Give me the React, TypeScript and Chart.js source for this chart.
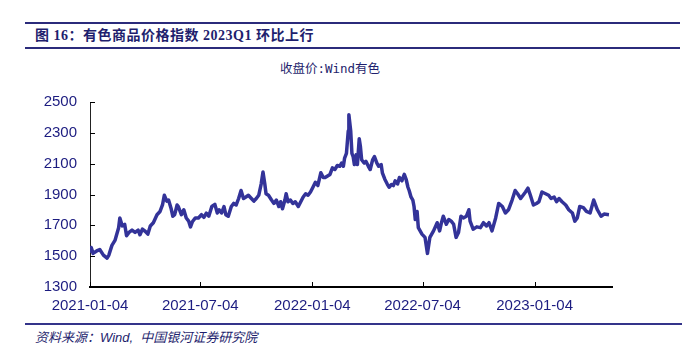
import React, { useEffect, useRef } from 'react';
import { Chart, registerables } from 'chart.js';

Chart.register(...registerables);

// ---------------- text ----------------
const TITLE = '图 16：有色商品价格指数 2023Q1 环比上行';
const SERIES_NAME = '收盘价:Wind有色';
const SOURCE = '资料来源：Wind,  中国银河证券研究院';

// ---------------- axes ----------------
const START_DATE = '2021-01-04';
const END_DATE = '2023-05-11';
const xTickDates = ['2021-01-04', '2021-07-04', '2022-01-04', '2022-07-04', '2023-01-04'];
const yMin = 1300;
const yMax = 2500;
const yStep = 200;

// ---------------- data (days since START_DATE, index close) ----------------
const sampleDays = [
  0, 2, 5, 11, 16, 22, 28, 31, 36, 41,
  47, 49, 53, 57, 60, 64, 69, 74, 79, 82,
  86, 91, 95, 99, 104, 110, 115, 119, 122, 126,
  129, 133, 136, 139, 143, 145, 150, 154, 158, 162,
  165, 168, 173, 178, 183, 187, 191, 195, 200, 205,
  209, 212, 216, 220, 223, 227, 232, 236, 240, 244,
  248, 252, 256, 260, 265, 269, 273, 277, 281, 284,
  287, 289, 293, 298, 302, 306, 310, 313, 316, 320,
  322, 325, 329, 333, 337, 342, 346, 350, 354, 358,
  362, 366, 370, 374, 379, 383, 386, 390, 394, 398,
  402, 406, 410, 413, 416, 418, 421, 424, 425, 428,
  430, 432, 434, 437, 439, 442, 444, 446, 450, 453,
  457, 460, 464, 467, 471, 474, 478, 480, 484, 488,
  491, 495, 498, 501, 505, 508, 512, 516, 519, 522,
  524, 527, 530, 532, 534, 537, 539, 545, 550, 554,
  558, 564, 570, 574, 577, 580, 585, 589, 593, 597,
  601, 605, 609, 613, 618, 622, 624, 629, 635, 641,
  646, 651, 655, 660, 666, 671, 677, 682, 687, 693,
  698, 702, 707, 711, 715, 719, 723, 728, 733, 737,
  742, 748, 753, 757, 762, 766, 770, 775, 781, 786,
  792, 796, 800, 804, 810, 815, 821, 827, 833, 839,
  844, 852,
];
const closeValues = [
  1522, 1556, 1518, 1534, 1543, 1507, 1487, 1507, 1570, 1602,
  1685, 1748, 1696, 1706, 1633, 1654, 1669, 1654, 1669, 1639,
  1675, 1660, 1643, 1696, 1717, 1769, 1790, 1832, 1895, 1857,
  1864, 1811, 1759, 1769, 1832, 1822, 1769, 1801, 1748, 1727,
  1690, 1723, 1748, 1748, 1769, 1752, 1779, 1759, 1822, 1836,
  1780, 1801, 1780, 1822, 1769, 1759, 1822, 1842, 1832, 1874,
  1926, 1874, 1884, 1895, 1874, 1857, 1874, 1895, 1968, 2046,
  1968, 1905, 1895, 1864, 1842, 1864, 1822, 1853, 1807, 1864,
  1905, 1853, 1864, 1842, 1853, 1822, 1853, 1884, 1905, 1895,
  1916, 1947, 1979, 1958, 2041, 2010, 2010, 2020, 2030, 2073,
  2062, 2088, 2083, 2104, 2083, 2136, 2167, 2313, 2418, 2313,
  2167, 2146, 2094, 2157, 2094, 2261, 2209, 2125, 2104, 2115,
  2083, 2062, 2125, 2146, 2104, 2083, 2094, 2041, 1999, 1968,
  1947, 1965, 1958, 1989, 1968, 2010, 1989, 2031, 1999, 1947,
  1926, 1884, 1864, 1822, 1738, 1790, 1685, 1643, 1622, 1518,
  1622, 1664, 1717, 1664, 1717, 1759, 1707, 1738, 1727, 1707,
  1622, 1654, 1759, 1748, 1759, 1801, 1727, 1675, 1690, 1685,
  1717, 1696, 1717, 1664, 1748, 1842, 1822, 1780, 1801, 1864,
  1926, 1905, 1874, 1895, 1916, 1941, 1895, 1832, 1842, 1853,
  1916, 1905, 1895, 1874, 1884, 1853, 1874, 1853, 1832, 1801,
  1780, 1727, 1748, 1822, 1815, 1790, 1780, 1864, 1801, 1759,
  1773, 1769,
];

const DAY_MS = 86400000;
const dayOf = (iso: string) => Math.round((Date.parse(iso) - Date.parse(START_DATE)) / DAY_MS);
const dateOf = (d: number) => new Date(Date.parse(START_DATE) + d * DAY_MS).toISOString().slice(0, 10);

const NAVY = '#1c1c80';
const LINE_COLOR = '#333399';

const innerTicks = {
  id: 'innerTicks',
  afterDraw(chart: any) {
    const { ctx, chartArea, scales } = chart;
    ctx.save();
    ctx.strokeStyle = '#000';
    ctx.lineWidth = 1;
    ctx.beginPath();
    scales.y.ticks.forEach((t: any) => {
      const y = Math.round(scales.y.getPixelForValue(t.value)) + 0.5;
      ctx.moveTo(chartArea.left, y);
      ctx.lineTo(chartArea.left + 5, y);
    });
    scales.x.ticks.forEach((t: any) => {
      const x = Math.round(scales.x.getPixelForValue(t.value)) + 0.5;
      ctx.moveTo(x, chartArea.bottom);
      ctx.lineTo(x, chartArea.bottom - 5);
    });
    ctx.stroke();
    ctx.restore();
  },
};

function LineChart() {
  const ref = useRef<HTMLCanvasElement | null>(null);
  useEffect(() => {
    if (!ref.current) return;
    const points = sampleDays.map((d, i) => ({ x: d, y: closeValues[i] }));
    const xTicks = xTickDates.map(dayOf);
    const tickFont = { family: "'Liberation Sans', Arial, sans-serif", size: 15 };
    const chart = new Chart(ref.current, {
      type: 'line',
      data: {
        datasets: [
          {
            label: SERIES_NAME,
            data: points,
            borderColor: LINE_COLOR,
            borderWidth: 3.5,
            pointRadius: 0,
            tension: 0,
            borderJoinStyle: 'round',
            fill: false,
          },
        ],
      },
      options: {
        responsive: false,
        maintainAspectRatio: false,
        animation: false,
        layout: { padding: { top: 17, right: 8, left: 0, bottom: 0 } },
        plugins: {
          legend: { display: false },
          tooltip: { enabled: false },
          title: { display: false },
        },
        scales: {
          x: {
            type: 'linear',
            min: 0,
            max: dayOf(END_DATE),
            grid: { display: false, drawTicks: false },
            border: { display: true, color: '#000', width: 2 },
            afterBuildTicks: (s: any) => {
              s.ticks = xTicks.map((v) => ({ value: v }));
            },
            afterFit: (s: any) => {
              s.height = 33;
            },
            ticks: {
              autoSkip: false,
              maxRotation: 0,
              padding: 10,
              color: NAVY,
              font: tickFont,
              callback: (v: any) => dateOf(Number(v)),
            },
          },
          y: {
            min: yMin,
            max: yMax,
            grid: { display: false, drawTicks: false },
            border: { display: true, color: '#222', width: 1 },
            afterFit: (s: any) => {
              s.width = 90;
            },
            ticks: {
              stepSize: yStep,
              padding: 13,
              color: NAVY,
              font: tickFont,
              callback: (v: any) => String(v),
            },
          },
        },
      },
      plugins: [innerTicks],
    } as any);
    return () => chart.destroy();
  }, []);
  return (
    <canvas
      ref={ref}
      width={620}
      height={240}
      style={{ position: 'absolute', left: 0, top: 80, width: 620, height: 240 }}
    />
  );
}

export default function App() {
  const cjk = "'Noto Sans CJK SC'";
  return (
    <div
      style={{
        position: 'fixed',
        left: 0,
        top: 0,
        width: 692,
        height: 353,
        background: '#fff',
        overflow: 'hidden',
      }}
    >
      <div style={{ position: 'absolute', left: 25, top: 22, width: 655, height: 2, background: '#2b2b7b' }} />
      <div
        style={{
          position: 'absolute',
          left: 35,
          top: 28,
          lineHeight: '16px',
          fontSize: 14,
          fontWeight: 'bold',
          letterSpacing: '0.5px',
          color: '#1f1f6e',
          fontFamily: `'Liberation Serif', ${cjk}, serif`,
          whiteSpace: 'nowrap',
        }}
      >
        {TITLE}
      </div>
      <div style={{ position: 'absolute', left: 25, top: 47, width: 655, height: 2, background: '#2b2b7b' }} />
      <div
        style={{
          position: 'absolute',
          left: 230,
          width: 200,
          top: 61,
          lineHeight: '16px',
          textAlign: 'center',
          fontSize: 12.5,
          color: '#1f1f6e',
          fontFamily: `'DejaVu Sans Mono', ${cjk}, monospace`,
          whiteSpace: 'nowrap',
        }}
      >
        {SERIES_NAME}
      </div>
      <LineChart />
      <div style={{ position: 'absolute', left: 25, top: 323, width: 657, height: 2, background: '#34348a' }} />
      <div
        style={{
          position: 'absolute',
          left: 35,
          top: 331,
          lineHeight: '14px',
          fontSize: 13,
          fontStyle: 'italic',
          color: '#1f1f6e',
          fontFamily: `'Liberation Sans', ${cjk}, sans-serif`,
          whiteSpace: 'pre',
        }}
      >
        {SOURCE}
      </div>
    </div>
  );
}
